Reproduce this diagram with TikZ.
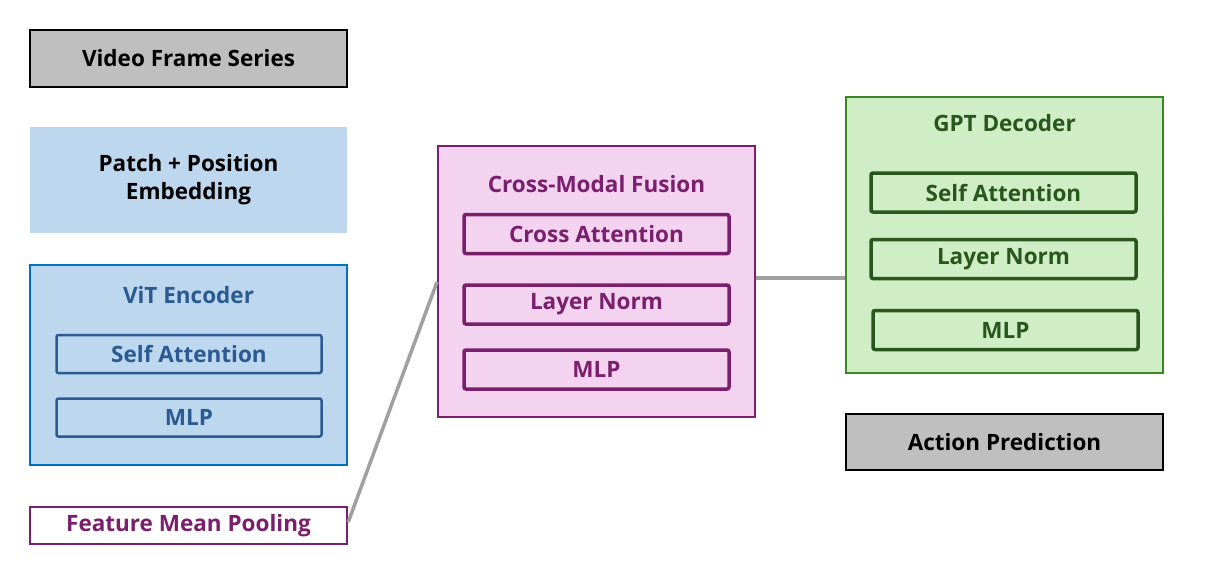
\documentclass[tikz,border=0pt]{standalone}
\usepackage{fontspec}
\setmainfont{Open Sans}
\definecolor{boxgray}{HTML}{BFBFBF}
\definecolor{vitfill}{HTML}{BDD7EE}
\definecolor{vitline}{HTML}{0070C0}
\definecolor{vittext}{HTML}{2B5A92}
\definecolor{fusefill}{HTML}{F4D3F0}
\definecolor{fuseline}{HTML}{7A1F6C}
\definecolor{gptfill}{HTML}{CFEEC6}
\definecolor{gptline}{HTML}{3B8526}
\definecolor{gpttext}{HTML}{28561D}
\definecolor{linkgray}{HTML}{A0A0A0}
\tikzset{
  txt/.style={font=\fontsize{22.5}{28}\selectfont\bfseries},
  block/.style={rectangle, txt, minimum width=317pt, inner sep=0pt},
  layer/.style={rectangle, txt, rounded corners=2pt, line width=3.5pt, minimum width=265pt, minimum height=39pt, inner sep=0pt},
  link/.style={draw=linkgray, line width=3.5pt}
}
\begin{document}
\begin{tikzpicture}[x=1pt,y=-1pt]
\useasboundingbox (0,0) rectangle (1205,574);

% left column
\node[block, draw=black, line width=2pt, fill=boxgray, minimum height=57pt] (video) at (188.5,58.5) {Video Frame Series};
\node[block, fill=vitfill, minimum height=106pt, align=center] (patch) at (188.5,180) {Patch + Position\\Embedding};
\node[block, draw=vitline, line width=2.5pt, fill=vitfill, minimum height=200pt] (vit) at (188.5,365) {};
\node[txt, text=vittext] (vittitle) at (188.5,295) {ViT Encoder};
\node[layer, draw=vittext, text=vittext, line width=2.5pt, minimum height=38pt] (vitsa) at (189,354) {Self Attention};
\node[layer, draw=vittext, text=vittext, line width=2.5pt, minimum height=38pt] (vitmlp) at (189,417.5) {MLP};
\node[block, draw=fuseline, line width=2.5pt, fill=white, text=fuseline, minimum height=37pt] (pool) at (188.5,525.5) {Feature Mean Pooling};

% fusion
\node[block, draw=fuseline, line width=2pt, fill=fusefill, minimum height=271pt] (fusion) at (596.5,281.5) {};
\node[txt, text=fuseline] (fusetitle) at (596.5,184) {Cross-Modal Fusion};
\node[layer, draw=fuseline, text=fuseline] (fuseca) at (596.5,234) {Cross Attention};
\node[layer, draw=fuseline, text=fuseline] (fuseln) at (596.5,304.5) {Layer Norm};
\node[layer, draw=fuseline, text=fuseline] (fusemlp) at (596.5,369.5) {MLP};

% decoder
\node[block, draw=gptline, line width=2.5pt, fill=gptfill, minimum height=276pt] (gpt) at (1004.5,235) {};
\node[txt, text=gpttext] (gpttitle) at (1004.5,123) {GPT Decoder};
\node[layer, draw=gpttext, text=gpttext] (gptsa) at (1003.5,192.5) {Self Attention};
\node[layer, draw=gpttext, text=gpttext] (gptln) at (1003.5,259) {Layer Norm};
\node[layer, draw=gpttext, text=gpttext] (gptmlp) at (1005.5,330) {MLP};
\node[block, draw=black, line width=2pt, fill=boxgray, minimum height=56pt] (action) at (1004.5,442) {Action Prediction};

% links
\draw[link] ([yshift=3.5pt]pool.east) -- ([yshift=-0.5pt]fusion.west);
\draw[link] ([yshift=3.5pt]fusion.east) -- ([yshift=-43pt]gpt.west);
\end{tikzpicture}
\end{document}
